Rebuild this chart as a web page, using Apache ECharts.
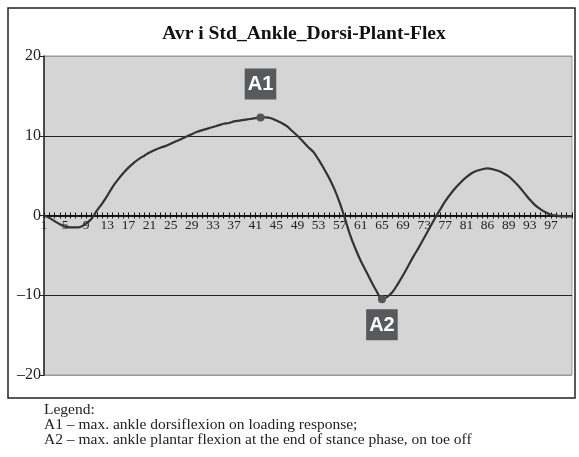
<!DOCTYPE html>
<html>
<head>
<meta charset="utf-8">
<script src="https://cdn.jsdelivr.net/npm/echarts@6/dist/echarts.min.js"></script>
<style>
  html, body { margin: 0; padding: 0; background: #fff; }
  #chart { width: 579px; height: 457px; }
</style>
</head>
<body>
<div id="chart"></div>
<script>
// gait cycle points, 1..101 (the axis in the source prints "86" where 85 would be)
const categories = []
for (let i = 1; i <= 101; i++) categories.push(String(i))
categories[84] = '86'

// ankle dorsi/plantar flexion (deg)
const ankle = [
  0, -0.3, -0.7, -1.1, -1.4, -1.5, -1.5, -1.4, -1.0, -0.4,
  0.6, 1.5, 2.5, 3.6, 4.5, 5.3, 6.0, 6.6, 7.1, 7.5,
  7.9, 8.2, 8.5, 8.7, 9.0, 9.3, 9.6, 9.9, 10.2, 10.5,
  10.7, 10.9, 11.1, 11.3, 11.5, 11.6, 11.8, 11.9, 12.0, 12.1,
  12.2, 12.3, 12.3, 12.2, 11.9, 11.6, 11.2, 10.6, 10.0, 9.3,
  8.6, 8.0, 7.0, 5.9, 4.7, 3.3, 1.6, -0.4, -2.5, -4.2,
  -5.7, -7.0, -8.3, -9.5, -10.5, -10.2, -9.6, -8.6, -7.5, -6.3,
  -5.1, -4.0, -2.8, -1.6, -0.4, 0.7, 1.8, 2.7, 3.5, 4.2,
  4.8, 5.3, 5.6, 5.8, 5.9, 5.8, 5.6, 5.3, 4.9, 4.3,
  3.6, 2.8, 2.0, 1.3, 0.8, 0.4, 0.1, 0.0, -0.1, -0.1,
  -0.1
]

// marked points: [index, value, name]
const marks = [
  [41, 12.3, 'A1'],
  [64, -10.5, 'A2']
]

const legendLines = [
  'Legend:',
  'A1 – max. ankle dorsiflexion on loading response;',
  'A2 – max. ankle plantar flexion at the end of stance phase, on toe off'
]

const serif = 'Liberation Serif, Times New Roman, serif'
const gridTop = 56
const gridBottom = 82
const zeroShift = -(457 - gridTop - gridBottom) / 2 // pulls the category axis up to y = 0

const myChart = echarts.init(document.getElementById('chart'))

const option = {
  animation: false,
  backgroundColor: '#fff',
  title: {
    text: 'Avr i Std_Ankle_Dorsi-Plant-Flex',
    left: 299,
    top: 19,
    textAlign: 'center',
    textStyle: { fontFamily: serif, fontSize: 19.6, fontWeight: 'bold', color: '#111' }
  },
  grid: {
    left: 44, right: 7, top: gridTop, bottom: gridBottom,
    show: true,
    backgroundColor: '#d5d5d5',
    borderColor: '#9a9a9a',
    borderWidth: 1
  },
  xAxis: [
    {
      // labelled axis, ticks hanging below the zero line
      type: 'category',
      data: categories,
      boundaryGap: false,
      position: 'bottom',
      offset: zeroShift,
      axisLine: { onZero: false, lineStyle: { color: '#111', width: 1.5 } },
      axisTick: { show: true, interval: 0, length: 3, lineStyle: { color: '#111' } },
      axisLabel: {
        interval: function (i) { return i % 4 === 0 && i < 100 },
        margin: 3,
        fontFamily: serif,
        fontSize: 13.5,
        color: '#222'
      },
      splitLine: { show: false }
    },
    {
      // same axis again, ticks sticking up so they cross the line
      type: 'category',
      data: categories,
      boundaryGap: false,
      position: 'bottom',
      offset: zeroShift,
      axisLine: { onZero: false, lineStyle: { color: '#111', width: 1.5 } },
      axisTick: { show: true, inside: true, interval: 0, length: 3, lineStyle: { color: '#111' } },
      axisLabel: { show: false },
      splitLine: { show: false }
    }
  ],
  yAxis: {
    type: 'value',
    min: -20,
    max: 20,
    interval: 10,
    axisLine: { show: true, lineStyle: { color: '#222', width: 1.5 } },
    axisTick: { show: true, length: 5, lineStyle: { color: '#222' } },
    axisLabel: {
      margin: 3,
      fontFamily: serif,
      fontSize: 16,
      color: '#222',
      formatter: function (v) { return v < 0 ? '–' + Math.abs(v) : String(v) }
    },
    splitLine: {
      show: true,
      lineStyle: { color: ['#9a9a9a', '#222', '#222', '#222', '#9a9a9a'], width: 1.2 }
    }
  },
  series: [
    {
      type: 'line',
      data: ankle,
      symbol: 'none',
      smooth: 0.3,
      lineStyle: { color: '#333', width: 2.2 },
      markPoint: {
        symbol: 'circle',
        symbolSize: 8,
        itemStyle: { color: '#555' },
        data: marks.map(function (m) {
          return {
            coord: [m[0], m[1]],
            label: {
              show: true,
              formatter: m[2],
              position: m[1] > 0 ? 'top' : 'bottom',
              distance: m[1] > 0 ? 14 : 6,
              backgroundColor: '#58595b',
              color: '#fff',
              fontFamily: 'Liberation Sans, Arial, sans-serif',
              fontWeight: 'bold',
              fontSize: 20,
              padding: [6, 3, 5, 3]
            }
          }
        })
      }
    }
  ],
  graphic: [
    {
      type: 'rect',
      shape: { x: 8, y: 8, width: 567, height: 390 },
      style: { fill: 'none', stroke: '#222', lineWidth: 1.5 },
      z: 100
    }
  ].concat(legendLines.map(function (t, i) {
    return {
      type: 'text',
      left: 44,
      top: 402 + i * 15,
      style: { text: t, fontFamily: serif, fontSize: 15.5, fill: '#222' }
    }
  }))
}

myChart.setOption(option)
</script>
</body>
</html>
